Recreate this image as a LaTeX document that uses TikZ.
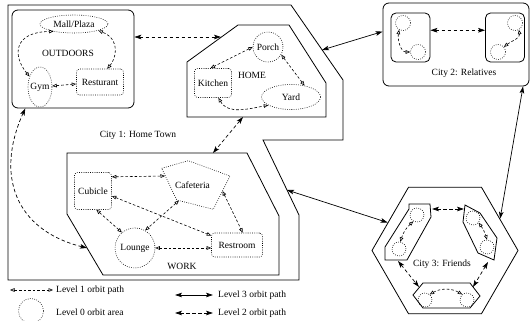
\documentclass[tikz,border=0pt]{standalone}
\usepackage{fontspec}
\setmainfont{Liberation Serif}
\usetikzlibrary{arrows.meta,shapes.geometric}

\tikzset{
  wall/.style={draw, line width=0.8pt, line join=miter},
  spot/.style={draw, line width=0.55pt, dash pattern=on 0.8pt off 1.4pt, inner sep=0pt},
  spotbox/.style={spot, rectangle, rounded corners=3pt},
  lvlone/.style={line width=0.6pt, dash pattern=on 2.6pt off 2pt,
    {Triangle[open,length=4.5pt,width=3.6pt]}-{Triangle[open,length=4.5pt,width=3.6pt]}},
  lvltwo/.style={line width=0.7pt, dash pattern=on 3.5pt off 2.5pt,
    {Stealth[length=7pt,width=4.6pt,inset=1.6pt]}-{Stealth[length=7pt,width=4.6pt,inset=1.6pt]}},
  lvlthree/.style={line width=0.7pt,
    {Stealth[length=7pt,width=4.6pt,inset=1.6pt]}-{Stealth[length=7pt,width=4.6pt,inset=1.6pt]}},
  tag/.style={anchor=west, inner sep=0pt},
}

\begin{document}
\begin{tikzpicture}[x=1pt, y=1pt, font=\fontsize{9.5}{11}\selectfont]
\useasboundingbox (0,0) rectangle (531,-321);

% ---------------- City 1: Home Town ----------------
\draw[wall] (8,-5) -- (291,-5) -- (343,-80) -- (343,-140) -- (263,-140)
  -- (299,-215) -- (299,-280) -- (8,-280) -- cycle;
\node (city1title) at (138,-135) {City 1: Home Town};

% Outdoors
\node[wall, rounded corners=6pt, minimum width=122pt, minimum height=98pt] (outdoors) at (73,-59) {};
\node (outdoorstitle) at (68,-53) {OUTDOORS};
\node[spot, ellipse, minimum width=68pt, minimum height=18pt] (mall) at (74,-24) {Mall/Plaza};
\node[spot, ellipse, minimum width=24pt, minimum height=40pt, label=center:Gym] (gym) at (40,-87) {};
\node[spotbox, minimum width=47pt, minimum height=26pt] (rest) at (100,-82) {Resturant};

\draw[lvlone] (gym) -- (rest);
\draw[lvlone] (gym.135) .. controls (12,-55) and (14,-32) .. (mall.200);
\draw[lvlone] (rest.62) .. controls (115,-60) and (122,-40) .. (mall.-15);

% Home
\draw[wall] (187,-62) -- (238,-25) -- (289,-25) -- (326,-83) -- (326,-117) -- (187,-117) -- cycle;
\node (hometitle) at (252,-75) {HOME};
\node[spot, circle, minimum size=30pt] (porch) at (268,-47) {Porch};
\node[spotbox, minimum width=37pt, minimum height=29pt] (kitchen) at (213,-83) {Kitchen};
\node[spot, ellipse, minimum width=59pt, minimum height=25pt] (yard) at (291,-97) {Yard};

\draw[lvlone] (porch.180) -- (kitchen.100);
\draw[lvlone] (porch.-30) -- (yard.40);
\draw[lvlone] (kitchen.-70) to[out=-60, in=190] (yard.200);

% Work
\draw[wall] (67,-153) -- (247,-153) -- (279,-216) -- (279,-275) -- (103,-275) -- (67,-214) -- cycle;
\node (worktitle) at (182,-266) {WORK};
\node[spotbox, minimum width=37pt, minimum height=37pt] (cubicle) at (93,-191) {Cubicle};
% the cafeteria is an irregular pentagon
\draw[spot] (161.7,-168.3) -- (188.3,-160.7) -- (230,-176) -- (213.3,-209.3) -- (176.7,-200) -- cycle;
\node (cafe) at (192.5,-185) {Cafeteria};
\coordinate (cafeW) at (165,-176);
\coordinate (cafeSW) at (179,-200.5);
\coordinate (cafeE) at (222.5,-191);
\node[spot, circle, minimum size=40pt] (lounge) at (135,-248) {Lounge};
\node[spotbox, minimum width=51pt, minimum height=24pt] (restroom) at (237,-245) {Restroom};

\draw[lvlone] (cubicle.37) -- (cafeW);
\draw[lvlone] (cubicle.-80) -- (lounge.130);
\draw[lvlone] (cubicle.-15) -- (restroom.160);
\draw[lvlone] (cafeSW) -- (lounge.60);
\draw[lvlone] (cafeE) -- (restroom.65);
\draw[lvlone] (lounge.east) -- (lounge.east -| restroom.west);

% Links inside City 1
\coordinate (homeW) at (221,-37);
\coordinate (homeS) at (243,-117);
\coordinate (workN) at (213,-153);
\coordinate (workW) at (87,-248);
\draw[lvltwo] (outdoors.east |- homeW) -- (homeW);
\draw[lvltwo] (homeS) -- (workN);
\draw[lvltwo] (outdoors.-134) .. controls (-5,-175) and (15,-230) .. (workW);

% ---------------- City 2: Relatives ----------------
\node[wall, rounded corners=6pt, minimum width=146pt, minimum height=83pt] (city2) at (456,-44.5) {};
\node (city2title) at (464,-73) {City 2: Relatives};
\node[wall, rounded corners=5pt, minimum width=39pt, minimum height=49pt] (rel1) at (410.5,-37.5) {};
\node[wall, rounded corners=5pt, minimum width=39pt, minimum height=49pt] (rel2) at (505,-37.5) {};
\node[spot, circle, minimum size=15pt] (rel1a) at (403,-23) {};
\node[spot, circle, minimum size=15pt] (rel1b) at (418,-52) {};
\node[spot, circle, minimum size=15pt] (rel2a) at (515,-23) {};
\node[spot, circle, minimum size=15pt] (rel2b) at (498,-52) {};

\draw[lvlone] (rel1a.240) to[out=-100, in=180] (rel1b.west);
\draw[lvlone] (rel2a.-60) to[out=-80, in=40] (rel2b.40);
\draw[lvltwo] (rel1.20) -- (rel2.160);

% ---------------- City 3: Friends ----------------
\node[wall, regular polygon, regular polygon sides=6, minimum size=146pt] (city3) at (445,-250.5) {};
\node (city3title) at (442,-264) {City 3: Friends};

\draw[wall] (409,-204) -- (430,-204) -- (431,-217) -- (407,-260) -- (385,-260) -- (385,-247) -- (409,-209) -- cycle;
\draw[wall] (465,-205) -- (480,-213) -- (497,-238) -- (494,-260) -- (478,-253) -- (463,-222) -- cycle;
\draw[wall] (413,-295) -- (423,-283) -- (470,-283) -- (480,-296) -- (470,-308) -- (423,-308) -- cycle;

\node[spot, circle, minimum size=14pt] (fr1a) at (417,-215) {};
\node[spot, circle, minimum size=14pt] (fr1b) at (399,-249) {};
\node[spot, circle, minimum size=14pt] (fr2a) at (473,-218) {};
\node[spot, circle, minimum size=14pt] (fr2b) at (487,-247) {};
\node[spot, circle, minimum size=14pt] (fr3a) at (425,-300) {};
\node[spot, circle, minimum size=14pt] (fr3b) at (467,-300) {};

\draw[lvlone] (fr1a.240) to[bend right=15] (fr1b.80);
\draw[lvlone] (fr2a.-40) to[bend left=10] (fr2b.90);
\draw[lvlone] (fr3a.50) to[bend left=30] (fr3b.130);

\coordinate (fr1E) at (432,-209);
\coordinate (fr2W) at (464,-209);
\coordinate (fr1S) at (398,-261);
\coordinate (fr3NW) at (419,-287);
\coordinate (fr2S) at (488,-262);
\coordinate (fr3NE) at (473,-287);
\draw[lvltwo] (fr1E) -- (fr2W);
\draw[lvltwo] (fr1S) -- (fr3NW);
\draw[lvltwo] (fr2S) -- (fr3NE);

% ---------------- Links between cities ----------------
\coordinate (c1ne) at (322,-50);
\coordinate (c1se) at (287,-190);
\draw[lvlthree] (c1ne) -- (city2.170);
\draw[lvlthree] (city2.-32) -- (city3.30);
\draw[lvlthree] (c1se) -- (city3.154);

% ---------------- Legend ----------------
\coordinate (keyoneA) at (10,-290);
\coordinate (keyoneB) at (53,-290);
\coordinate (keythreeA) at (175,-295);
\coordinate (keythreeB) at (213,-295);
\coordinate (keytwoA) at (175,-313);
\coordinate (keytwoB) at (213,-313);
\draw[lvlone] (keyoneA) -- (keyoneB);
\node[tag] (keyonetext) at (56,-290) {Level 1 orbit path};
\node[spot, circle, minimum size=25pt] (keyzero) at (31,-311) {};
\node[tag] (keyzerotext) at (56,-312) {Level 0 orbit area};
\draw[lvlthree] (keythreeA) -- (keythreeB);
\node[tag] (keythreetext) at (218,-295) {Level 3 orbit path};
\draw[lvltwo] (keytwoA) -- (keytwoB);
\node[tag] (keytwotext) at (218,-313) {Level 2 orbit path};
\end{tikzpicture}
\end{document}
